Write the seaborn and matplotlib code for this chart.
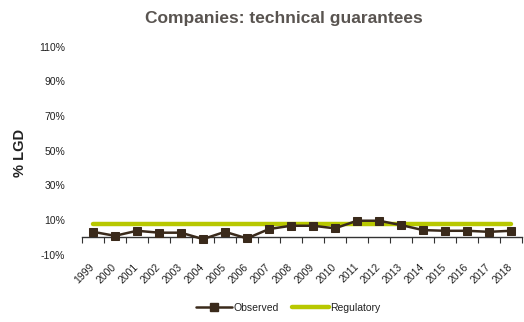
import matplotlib
matplotlib.use("Agg")
import matplotlib.pyplot as plt
from matplotlib.lines import Line2D
from matplotlib.ticker import FixedLocator, PercentFormatter
import numpy as np
import pandas as pd
import seaborn as sns

years = [str(y) for y in range(1999, 2019)]
observed = [3.2, 0.9, 3.8, 2.7, 2.7, -1.0, 3.2, -0.6, 4.8, 6.7,
            6.7, 5.2, 9.6, 9.6, 7.1, 4.2, 3.8, 3.8, 3.2, 3.8]
regulatory = [7.7] * len(years)
y_ticks = [-10, 10, 30, 50, 70, 90, 110]

sns.set_theme(style="white")
plt.rcParams["font.family"] = ["Liberation Sans", "DejaVu Sans"]
plt.rcParams["axes.unicode_minus"] = False

brown = "#3a2a1b"
lime = "#b8c800"

df = pd.DataFrame({
    "pos": np.arange(len(years)),
    "Observed": observed,
    "Regulatory": regulatory,
})

fig = plt.figure(figsize=(5.24, 3.22), dpi=100)
ax = fig.add_axes([82 / 524, 1 - 254.7 / 322, 440 / 524, (254.7 - 46.7) / 322])

sns.lineplot(data=df, x="pos", y="Regulatory", ax=ax, color=lime, linewidth=3.2,
             zorder=2, legend=False)
sns.lineplot(data=df, x="pos", y="Observed", ax=ax, color=brown, linewidth=1.8,
             marker="s", markersize=5.5, markeredgecolor=brown, zorder=3, legend=False)

ax.set_xlim(-0.5, len(years) - 0.5)
ax.set_ylim(-10, 110)

# category axis crosses at zero, with tick marks on category boundaries
for s in ["top", "right", "left"]:
    ax.spines[s].set_visible(False)
ax.spines["bottom"].set_position(("data", 0))
ax.spines["bottom"].set_color("#333333")
ax.spines["bottom"].set_linewidth(1.0)

ax.xaxis.set_major_locator(FixedLocator(np.arange(len(years) + 1) - 0.5))
ax.xaxis.set_minor_locator(FixedLocator(np.arange(len(years))))
ax.set_xticklabels([], minor=False)
ax.set_xticklabels(years, minor=True)
ax.tick_params(axis="x", which="major", bottom=True, length=4, width=0.8,
               color="#333333", direction="out")
ax.tick_params(axis="x", which="minor", bottom=True, length=0, pad=20,
               labelsize=7.5, labelcolor="#222222")
for lab in ax.get_xticklabels(minor=True):
    lab.set_rotation(45)
    lab.set_ha("right")
    lab.set_va("center")
    lab.set_rotation_mode("anchor")

ax.set_yticks(y_ticks)
ax.yaxis.set_major_formatter(PercentFormatter(decimals=0))
ax.tick_params(axis="y", length=0, pad=12, labelsize=7.5, labelcolor="#222222")

ax.set_xlabel("")
ax.set_ylabel("")
fig.text(20 / 524, 1 - 153 / 322, "% LGD", rotation=90, ha="center", va="center",
         fontsize=10.5, fontweight="bold", color="#222222")

fig.text(284 / 524, 1 - 18 / 322, "Companies: technical guarantees",
         ha="center", va="center", fontsize=12.5, fontweight="bold", color="#595450")

handles = [
    Line2D([], [], color=brown, linewidth=1.8, marker="s", markersize=5.5),
    Line2D([], [], color=lime, linewidth=3.2),
]
fig.legend(handles, ["Observed", "Regulatory"], loc="center",
           bbox_to_anchor=(288 / 524, 1 - 308 / 322), ncol=2, frameon=False,
           fontsize=7.5, handlelength=3.5, columnspacing=1.3, handletextpad=0.1,
           labelcolor="#222222")

fig.savefig("out.png", dpi=100)
